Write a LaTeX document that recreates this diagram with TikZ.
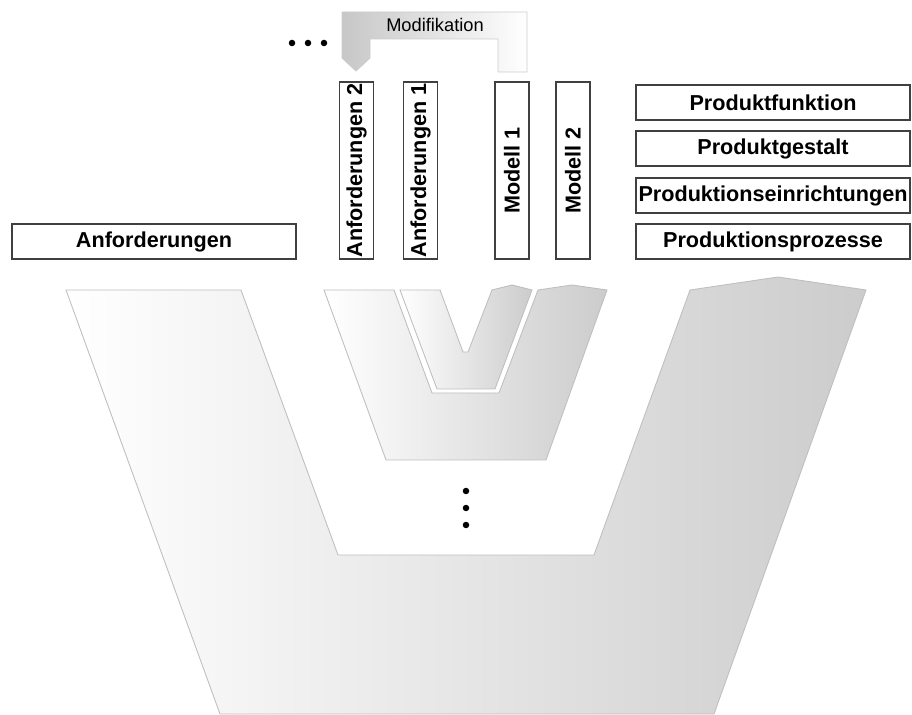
\documentclass[tikz,border=0pt]{standalone}
\usepackage{fontspec}
\setmainfont{Liberation Sans}
\usetikzlibrary{calc}

\tikzset{
  boite/.style={draw=black!75,line width=0.65pt,fill=white,inner sep=0pt,
    font=\bfseries\fontsize{12.3}{14}\selectfont},
  largeboite/.style={boite,minimum width=5.68cm,minimum height=0.7cm},
  droiteboite/.style={boite,minimum width=5.48cm,minimum height=0.7cm},
  colonne/.style={boite,rotate=90,minimum width=3.54cm,minimum height=0.68cm},
  forme/.style={draw=black!25,line width=0.5pt,left color=white,right color=black!20},
  point/.style={fill=black}
}

\begin{document}
\begin{tikzpicture}[x=0.02cm,y=-0.02cm]
\useasboundingbox (0,0) rectangle (912,715);

% grand V
\draw[forme] (66,290) -- (241,290) -- (338,555) -- (594,555) -- (690,290)
   -- (778,277) -- (866,290) -- (714,714) -- (220,714) -- cycle;

% petit V exterieur
\draw[forme] (324,290) -- (394,290) -- (432,393) -- (499,393) -- (538,290)
   -- (572,285) -- (607,290) -- (546,460) -- (386,460) -- cycle;

% petit V interieur
\draw[forme] (400,290) -- (440,290) -- (463,352) -- (468,352) -- (492,290)
   -- (512,285) -- (532,290) -- (495,389) -- (437,389) -- cycle;

% fleche de modification
\draw[draw=black!20,line width=0.5pt,left color=black!22,right color=white]
   (342,12) -- (527,12) -- (527,72) -- (498,72) -- (498,39) -- (370,39)
   -- (370,58) -- (356,71) -- (342,58) -- cycle;
\node[font=\fontsize{10.4}{12}\selectfont] (modif) at (435,25) {Modifikation};

% points
\foreach \px/\nom in {292/h1,308/h2,324/h3}
  \fill[point] (\px,43) coordinate (\nom) circle[radius=0.065cm];
\foreach \py/\nom in {491/v1,508/v2,525/v3}
  \fill[point] (466,\py) coordinate (\nom) circle[radius=0.065cm];

% boites
\node[largeboite] (anf) at (154,241.5) {Anforderungen};

\node[colonne] (anf2) at (356.5,170.5) {Anforderungen 2};
\node[colonne] (anf1) at (420.5,170.5) {Anforderungen 1};
\node[colonne] (mod1) at (512,170.5) {Modell 1};
\node[colonne] (mod2) at (573,170.5) {Modell 2};

\node[droiteboite] (pfkt) at (773,102.5) {Produktfunktion};
\node[droiteboite] (pgest) at (773,148.5) {Produktgestalt};
\node[droiteboite] (peinr) at (773,195.5) {Produktionseinrichtungen};
\node[droiteboite] (pproz) at (773,241.5) {Produktionsprozesse};

\end{tikzpicture}
\end{document}
